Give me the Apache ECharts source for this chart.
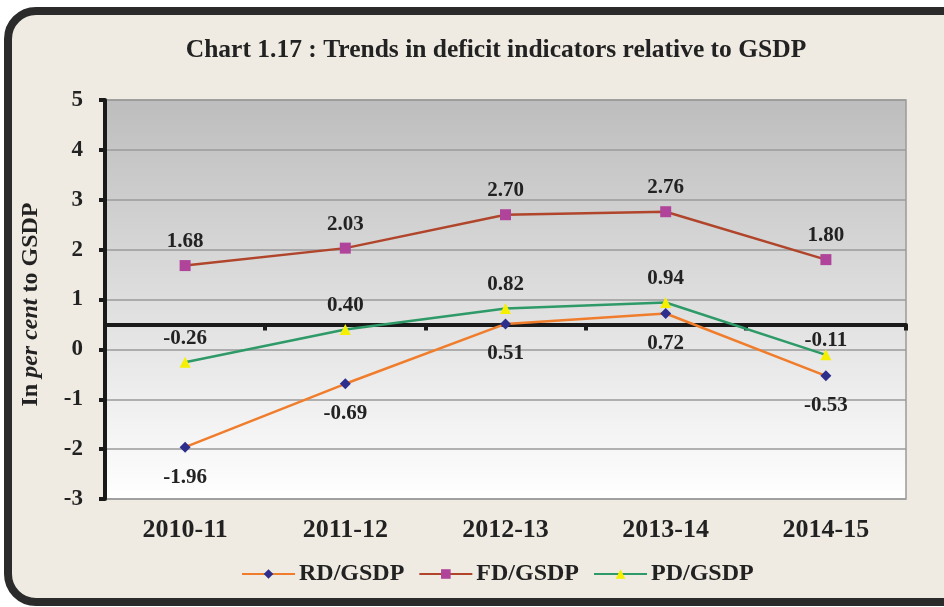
<!DOCTYPE html>
<html>
<head>
<meta charset="utf-8">
<script src="https://cdn.jsdelivr.net/npm/echarts@6/dist/echarts.min.js"></script>
<style>
html, body { margin: 0; background: #ffffff; }
#main { width: 944px; height: 607px; }
</style>
</head>
<body>
<div id="main"></div>
<script>
// data
var years = ['2010-11', '2011-12', '2012-13', '2013-14', '2014-15'];
var rdGsdp = [-1.96, -0.69, 0.51, 0.72, -0.53];
var fdGsdp = [1.68, 2.03, 2.70, 2.76, 1.80];
var pdGsdp = [-0.26, 0.40, 0.82, 0.94, -0.11];

var serif = "'Liberation Serif', 'Times New Roman', serif";
var ink = '#222222';

var chart = echarts.init(document.getElementById('main'), null, { renderer: 'canvas' });

function lbl(pos, dist) {
  return {
    show: true,
    position: pos,
    distance: dist,
    fontFamily: serif,
    fontWeight: 'bold',
    fontSize: 21,
    color: ink,
    formatter: function (p) { return p.value.toFixed(2); }
  };
}

// last PD label sits closer to its point, just under the thick rule
var pdData = pdGsdp.map(function (v, i) {
  return i === pdGsdp.length - 1 ? { value: v, label: { distance: -2 } } : v;
});

var option = {
  backgroundColor: '#ffffff',
  animation: false,
  graphic: [{
    type: 'rect',
    z: -10,
    shape: { x: 8, y: 11, width: 970, height: 591, r: 28 },
    style: { fill: '#efebe2', stroke: '#2b2b2b', lineWidth: 8 }
  }],
  title: {
    text: 'Chart 1.17 : Trends in deficit indicators relative to GSDP',
    left: 491,
    textAlign: 'center',
    top: 32,
    textStyle: { fontFamily: serif, fontWeight: 'bold', fontSize: 25.5, color: ink }
  },
  legend: {
    top: 557,
    left: 236,
    itemWidth: 53,
    itemHeight: 12,
    itemGap: 14,
    textStyle: { fontFamily: serif, fontWeight: 'bold', fontSize: 24, color: ink, padding: [0, 0, 0, -1] },
    data: ['RD/GSDP', 'FD/GSDP', 'PD/GSDP']
  },
  grid: {
    left: 105,
    right: 38,
    top: 100,
    bottom: 108,
    outerBoundsMode: 'none',
    show: true,
    borderColor: '#9a9a9a',
    borderWidth: 1.5,
    backgroundColor: new echarts.graphic.LinearGradient(0, 0, 0, 1, [
      { offset: 0, color: '#bdbdbd' },
      { offset: 1, color: '#ffffff' }
    ])
  },
  xAxis: [{
    type: 'category',
    data: years,
    position: 'bottom',
    axisLine: { show: false },
    axisTick: { show: false },
    axisLabel: { margin: 18, fontFamily: serif, fontWeight: 'bold', fontSize: 26, color: ink }
  }, {
    // thick horizontal rule with its category ticks, sitting at 0.5 of the main scale
    type: 'category',
    data: years,
    position: 'top',
    axisLine: { show: true, onZero: true, onZeroAxisIndex: 1, lineStyle: { color: '#1a1a1a', width: 4 } },
    axisTick: { show: true, inside: true, length: 6, lineStyle: { color: '#1a1a1a', width: 4 } },
    axisLabel: { show: false },
    splitLine: { show: false }
  }],
  yAxis: [{
    type: 'value',
    min: -3,
    max: 5,
    interval: 1,
    name: '{a|In }{b|per cent}{a| to GSDP}',
    nameLocation: 'middle',
    nameGap: 62,
    nameRotate: 90,
    nameTextStyle: {
      padding: [0, 0, 0, -10],
      rich: {
        a: { fontFamily: serif, fontWeight: 'bold', fontSize: 24, color: ink },
        b: { fontFamily: serif, fontWeight: 'bold', fontStyle: 'italic', fontSize: 24, color: ink }
      }
    },
    axisLine: { show: true, lineStyle: { color: '#1a1a1a', width: 4 } },
    axisTick: { show: true, length: 6, lineStyle: { color: '#1a1a1a', width: 4 } },
    axisLabel: { margin: 22, fontFamily: serif, fontWeight: 'bold', fontSize: 23, color: ink },
    splitLine: { show: true, lineStyle: { color: '#9a9a9a', width: 1.5 } }
  }, {
    type: 'value',
    min: -3.5,
    max: 4.5,
    show: false
  }],
  series: [{
    name: 'RD/GSDP',
    type: 'line',
    data: rdGsdp,
    symbol: 'diamond',
    symbolSize: 11,
    lineStyle: { color: '#f07d2c', width: 2.5 },
    itemStyle: { color: '#2e2e8c' },
    label: lbl('bottom', 14),
    z: 4
  }, {
    name: 'FD/GSDP',
    type: 'line',
    data: fdGsdp,
    symbol: 'rect',
    symbolSize: 11,
    lineStyle: { color: '#b0452b', width: 2.5 },
    itemStyle: { color: '#b0449a' },
    label: lbl('top', 8),
    z: 4
  }, {
    name: 'PD/GSDP',
    type: 'line',
    data: pdData,
    symbol: 'triangle',
    symbolSize: 11,
    lineStyle: { color: '#2e9a68', width: 2.5 },
    itemStyle: { color: '#f5f000' },
    label: lbl('top', 8),
    z: 4
  }]
};

chart.setOption(option);
</script>
</body>
</html>
